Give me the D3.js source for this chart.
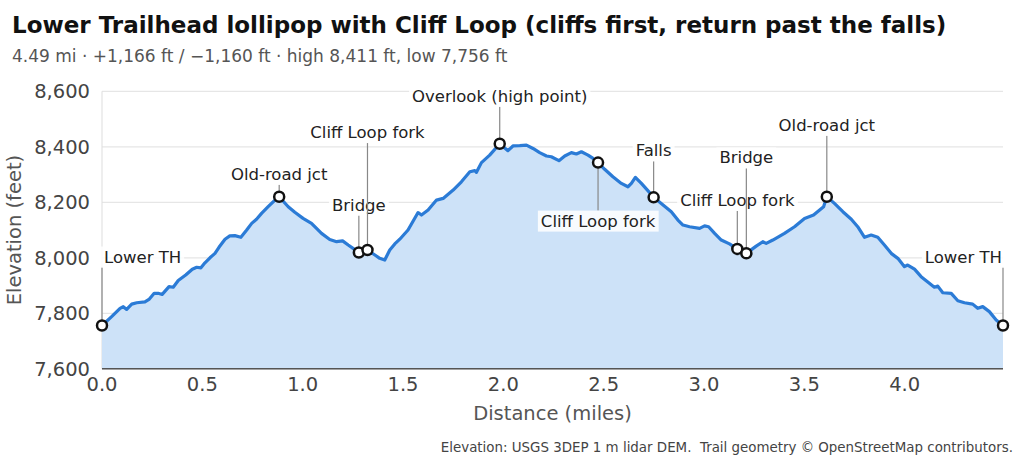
<!DOCTYPE html>
<html>
<head>
<meta charset="utf-8">
<script src="https://cdn.jsdelivr.net/npm/d3@7"></script>
<style>
  body { margin: 0; background: #fff; }
  svg { font-family: "DejaVu Sans", sans-serif; }
</style>
</head>
<body>
<div id="chart"></div>
<script>
// trail profile, distance in miles and elevation in feet
const dist = [0.000, 0.048, 0.090, 0.106, 0.123, 0.148, 0.173, 0.214, 0.234, 0.260,
  0.280, 0.300, 0.334, 0.355, 0.380, 0.417, 0.450, 0.472, 0.493, 0.513,
  0.538, 0.563, 0.583, 0.613, 0.637, 0.662, 0.692, 0.721, 0.746, 0.770,
  0.795, 0.828, 0.862, 0.883, 0.928, 0.961, 1.002, 1.044, 1.094, 1.135,
  1.169, 1.199, 1.227, 1.251, 1.280, 1.323, 1.360, 1.384, 1.409, 1.434,
  1.459, 1.484, 1.525, 1.575, 1.592, 1.625, 1.667, 1.700, 1.750, 1.791,
  1.833, 1.858, 1.866, 1.891, 1.932, 1.982, 2.023, 2.048, 2.082, 2.115,
  2.148, 2.181, 2.215, 2.239, 2.277, 2.306, 2.339, 2.364, 2.389, 2.422,
  2.447, 2.472, 2.505, 2.546, 2.588, 2.621, 2.638, 2.658, 2.688, 2.718,
  2.749, 2.787, 2.837, 2.870, 2.895, 2.928, 2.978, 3.003, 3.023, 3.053,
  3.086, 3.127, 3.166, 3.211, 3.260, 3.293, 3.310, 3.343, 3.401, 3.451,
  3.501, 3.546, 3.596, 3.612, 3.650, 3.692, 3.734, 3.766, 3.800, 3.833,
  3.866, 3.899, 3.933, 3.966, 3.999, 4.015, 4.049, 4.082, 4.123, 4.148,
  4.165, 4.190, 4.232, 4.265, 4.298, 4.339, 4.364, 4.389, 4.422, 4.456,
  4.490];
const elev = [7756, 7788, 7818, 7824, 7814, 7833, 7838, 7841, 7850, 7872,
  7872, 7868, 7896, 7894, 7918, 7938, 7959, 7966, 7964, 7982,
  8000, 8016, 8038, 8067, 8079, 8080, 8074, 8100, 8124, 8139,
  8160, 8184, 8208, 8220, 8184, 8164, 8142, 8124, 8088, 8066,
  8058, 8061, 8046, 8034, 8019, 8028, 8010, 7998, 7992, 8028,
  8050, 8067, 8100, 8163, 8154, 8172, 8208, 8214, 8244, 8274,
  8310, 8314, 8308, 8343, 8370, 8411, 8386, 8403, 8404, 8406,
  8394, 8379, 8367, 8364, 8350, 8367, 8379, 8374, 8382, 8370,
  8358, 8343, 8319, 8292, 8268, 8256, 8268, 8290, 8268, 8244,
  8218, 8196, 8166, 8136, 8118, 8112, 8106, 8115, 8112, 8088,
  8064, 8050, 8032, 8016, 8042, 8058, 8052, 8064, 8088, 8112,
  8142, 8154, 8184, 8220, 8196, 8166, 8139, 8112, 8074, 8082,
  8074, 8046, 8016, 7998, 7968, 7974, 7959, 7932, 7908, 7894,
  7898, 7874, 7872, 7845, 7838, 7833, 7818, 7824, 7806, 7776,
  7756];

// waypoints along the route
const markerNames = ["Lower TH", "Old-road jct", "Bridge", "Cliff Loop fork",
  "Overlook (high point)", "Cliff Loop fork", "Falls", "Cliff Loop fork",
  "Bridge", "Old-road jct", "Lower TH"];
const markerMiles = [0.000, 0.883, 1.280, 1.323, 1.982, 2.472, 2.749, 3.166, 3.211, 3.612, 4.490];
const markerElev = [7756, 8220, 8019, 8028, 8411, 8343, 8218, 8032, 8016, 8220, 7756];

// label placement (pixels from the marker to the label baseline)
const labelDy = [-63, -17, -42, -112, -42, 64, -41, -43, -90, -66, -63];
const labelAnchor = ["start", "middle", "middle", "middle", "middle", "middle",
  "middle", "middle", "middle", "middle", "end"];

const yTicks = [7600, 7800, 8000, 8200, 8400, 8600];
const xTicks = [0, 0.5, 1.0, 1.5, 2.0, 2.5, 3.0, 3.5, 4.0];

const title = "Lower Trailhead lollipop with Cliff Loop (cliffs first, return past the falls)";
const subtitle = "4.49 mi \u00b7 +1,166 ft / \u22121,160 ft \u00b7 high 8,411 ft, low 7,756 ft";
const credit = "Elevation: USGS 3DEP 1 m lidar DEM.  Trail geometry \u00a9 OpenStreetMap contributors.";

const width = 1024, height = 461;

let svg = d3.select("#chart").append("svg")
  .attr("width", width)
  .attr("height", height);

let xScale = d3.scaleLinear().domain([0, 4.49]).range([102, 1003]);
let yScale = d3.scaleLinear().domain([7600, 8600]).range([368.8, 91.3]);

// title + subtitle
svg.append("text")
  .attr("x", 12).attr("y", 33)
  .attr("font-size", 23).attr("font-weight", "bold").attr("fill", "#111")
  .text(title);
svg.append("text")
  .attr("x", 12).attr("y", 62)
  .attr("font-size", 17).attr("fill", "#555")
  .text(subtitle);

// grid
svg.append("g")
  .selectAll("line")
  .data(yTicks)
  .enter()
  .append("line")
  .attr("x1", xScale(0)).attr("x2", xScale(4.49))
  .attr("y1", d => yScale(d)).attr("y2", d => yScale(d))
  .attr("stroke", "#e6e6e6").attr("stroke-width", 1.2);

svg.append("line")
  .attr("x1", xScale(0)).attr("x2", xScale(0))
  .attr("y1", yScale(8600)).attr("y2", yScale(7600))
  .attr("stroke", "#dddddd").attr("stroke-width", 1);

// profile
let pts = dist.map((d, i) => [d, elev[i]]);

let area = d3.area()
  .x(d => xScale(d[0]))
  .y0(yScale(7600))
  .y1(d => yScale(d[1]));
let line = d3.line()
  .x(d => xScale(d[0]))
  .y(d => yScale(d[1]));

svg.append("path")
  .datum(pts)
  .attr("d", area)
  .attr("fill", "#cde2f8");

svg.append("path")
  .datum(pts)
  .attr("d", line)
  .attr("fill", "none")
  .attr("stroke", "#2b7bd6")
  .attr("stroke-width", 3.2)
  .attr("stroke-linejoin", "round");

// bottom spine
svg.append("line")
  .attr("x1", xScale(0)).attr("x2", xScale(4.49))
  .attr("y1", yScale(7600)).attr("y2", yScale(7600))
  .attr("stroke", "#555").attr("stroke-width", 1.5);

// axes labels
svg.append("g")
  .selectAll("text")
  .data(yTicks)
  .enter()
  .append("text")
  .attr("x", 90)
  .attr("y", d => yScale(d))
  .attr("dy", "0.36em")
  .attr("text-anchor", "end")
  .attr("font-size", 19.5)
  .attr("fill", "#444")
  .text(d => d3.format(",")(d));

svg.append("g")
  .selectAll("text")
  .data(xTicks)
  .enter()
  .append("text")
  .attr("x", d => xScale(d))
  .attr("y", 391)
  .attr("text-anchor", "middle")
  .attr("font-size", 19.5)
  .attr("fill", "#444")
  .text(d => d3.format(".1f")(d));

svg.append("text")
  .attr("x", (xScale(0) + xScale(4.49)) / 2)
  .attr("y", 420)
  .attr("text-anchor", "middle")
  .attr("font-size", 19.5)
  .attr("fill", "#555")
  .text("Distance (miles)");

svg.append("text")
  .attr("transform", `translate(21,${(yScale(7600) + yScale(8600)) / 2}) rotate(-90)`)
  .attr("text-anchor", "middle")
  .attr("font-size", 19.5)
  .attr("fill", "#555")
  .text("Elevation (feet)");

// waypoints: leader, label with white box, circle
let marks = markerNames.map((n, i) => ({
  name: n, mi: markerMiles[i], el: markerElev[i], dy: labelDy[i], anchor: labelAnchor[i]
}));

let lab = svg.append("g").attr("class", "labels");
marks.forEach(function(m) {
  let cx = xScale(m.mi), cy = yScale(m.el);
  let tx = cx;
  if (m.anchor == "start") tx = cx + 2;
  if (m.anchor == "end") tx = cx - 1;
  let g = lab.append("g");
  let leader = g.append("line")
    .attr("stroke", "#888").attr("stroke-width", 1.2);
  let box = g.append("rect");
  let t = g.append("text")
    .attr("x", tx).attr("y", cy + m.dy)
    .attr("text-anchor", m.anchor)
    .attr("font-size", 16.5)
    .attr("fill", "#222")
    .text(m.name);
  let bb = t.node().getBBox();
  box.attr("x", bb.x - 3).attr("y", bb.y - 1)
    .attr("width", bb.width + 6).attr("height", bb.height + 2)
    .attr("fill", "#fff").attr("opacity", 0.85);
  if (m.dy < 0) {
    leader.attr("x1", cx).attr("x2", cx)
      .attr("y1", bb.y + bb.height + 1).attr("y2", cy);
  } else {
    leader.attr("x1", cx).attr("x2", cx)
      .attr("y1", cy).attr("y2", bb.y - 1);
  }
});

svg.append("g")
  .selectAll("circle")
  .data(marks)
  .enter()
  .append("circle")
  .attr("cx", d => xScale(d.mi))
  .attr("cy", d => yScale(d.el))
  .attr("r", 5)
  .attr("fill", "#fff")
  .attr("stroke", "#111")
  .attr("stroke-width", 2.5);

// credit line
svg.append("text")
  .attr("x", 1013).attr("y", 452)
  .attr("text-anchor", "end")
  .attr("font-size", 13.4)
  .attr("fill", "#444")
  .style("white-space", "pre")
  .text(credit);
</script>
</body>
</html>
